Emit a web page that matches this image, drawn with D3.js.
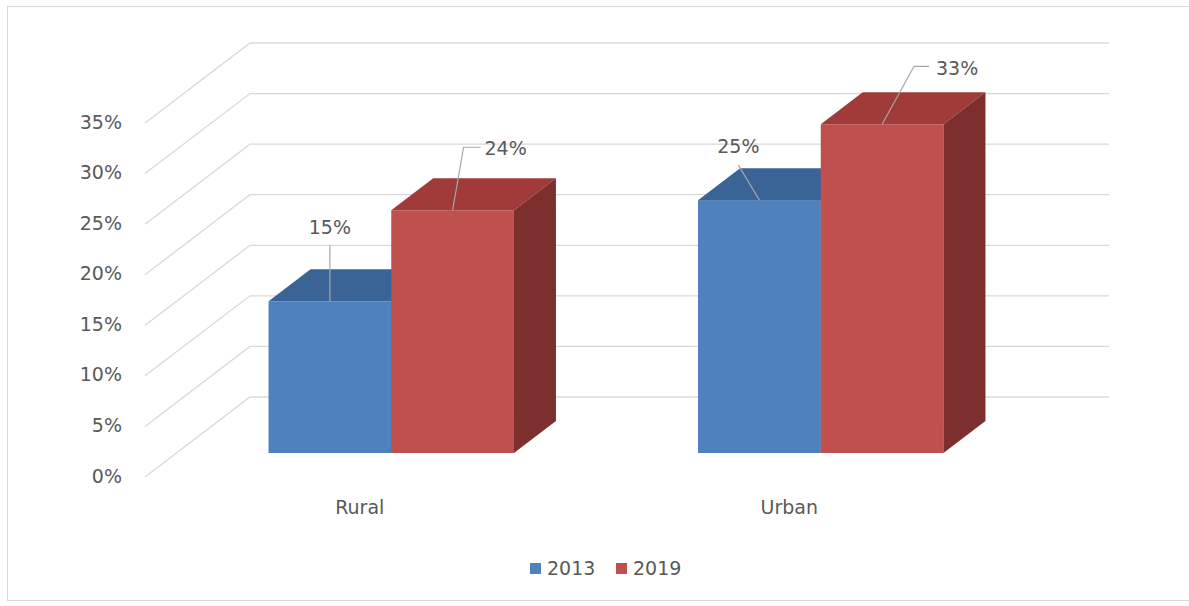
<!DOCTYPE html>
<html>
<head>
<meta charset="utf-8">
<script src="https://cdn.jsdelivr.net/npm/d3@7"></script>
<style>
  body { margin: 0; background: #fff; }
  text { font-family: "DejaVu Sans", sans-serif; fill: #595959; }
</style>
</head>
<body>
<div id="chart"></div>
<script>
// data
var categories = ["Rural", "Urban"];
var seriesNames = ["2013", "2019"];
var values2013 = [0.15, 0.25];
var values2019 = [0.24, 0.325];
var yTicks = [0, 0.05, 0.10, 0.15, 0.20, 0.25, 0.30, 0.35];

var width = 1189, height = 606;
var depthX = 105, depthY = -80;   // full depth of the 3d box
var barD0 = 0.3, barD1 = 0.7;      // bars sit in the middle of the depth

var colors = {
  "2013": { front: "#4f81bd", top: "#3a6396", side: "#2f5482" },
  "2019": { front: "#c0504d", top: "#a03b39", side: "#7d2f2e" }
};

// manual label placement, like excel does (offsets from top front edge)
var labelPos = [
  { dx: 0,   dy: -73, path: [[0, -56]] },
  { dx: 53,  dy: -61, path: [[11, -63], [28, -63]] },
  { dx: -21, dy: -53, path: [[-21, -35]] },
  { dx: 75,  dy: -55, path: [[32, -58], [47, -58]] }
];

var svg = d3.select("#chart").append("svg")
  .attr("width", width)
  .attr("height", height);

svg.append("rect")
  .attr("x", 7.5).attr("y", 6.5)
  .attr("width", width).attr("height", 594)
  .attr("fill", "none")
  .attr("stroke", "#d9d9d9");

var x = d3.scaleBand().domain(categories).range([145, 1004]);
var xs = d3.scaleBand().domain(seriesNames).range([0, x.bandwidth()]).paddingOuter(0.75);
var y = d3.scaleLinear().domain([0, 0.35]).range([477, 123]);

function proj(px, py, d) {
  return [px + depthX * d, py + depthY * d];
}

// gridlines: left wall diagonal + back wall
var grid = svg.append("g").attr("stroke", "#d9d9d9").attr("stroke-width", 1.3).attr("fill", "none");
yTicks.forEach(function(t) {
  var a = proj(145, y(t), 0), b = proj(145, y(t), 1), c = proj(1004, y(t), 1);
  grid.append("path").attr("d", d3.line()([a, b, c]));
});

svg.append("g").selectAll("text")
  .data(yTicks)
  .enter().append("text")
  .attr("x", 122)
  .attr("y", function(d) { return y(d); })
  .attr("text-anchor", "end")
  .attr("dominant-baseline", "middle")
  .style("font-size", "19px")
  .text(d3.format(".0%"));

// bars
var bars = [];
categories.forEach(function(c, i) {
  seriesNames.forEach(function(s, j) {
    var v = (j === 0 ? values2013 : values2019)[i];
    bars.push({ cat: c, series: s, value: v, idx: bars.length });
  });
});

var barG = svg.append("g");
bars.forEach(function(b) {
  var fx0 = x(b.cat) + xs(b.series), fx1 = fx0 + xs.bandwidth();
  var p0 = proj(fx0, y(b.value), barD0), p1 = proj(fx1, y(b.value), barD0);
  var base = proj(fx0, y(0), barD0)[1];
  var ddx = depthX * (barD1 - barD0), ddy = depthY * (barD1 - barD0);
  var col = colors[b.series];
  b.fx = (p0[0] + p1[0]) / 2;
  b.fy = p0[1];

  barG.append("rect")
    .attr("x", p0[0]).attr("y", p0[1])
    .attr("width", p1[0] - p0[0]).attr("height", base - p0[1])
    .attr("fill", col.front);
  barG.append("path")
    .attr("d", d3.line()([[p0[0], p0[1]], [p1[0], p1[1]], [p1[0] + ddx, p1[1] + ddy], [p0[0] + ddx, p0[1] + ddy]]) + "Z")
    .attr("fill", col.top);
  barG.append("path")
    .attr("d", d3.line()([[p1[0], p1[1]], [p1[0] + ddx, p1[1] + ddy], [p1[0] + ddx, base + ddy], [p1[0], base]]) + "Z")
    .attr("fill", col.side);
});

// data labels with leader lines
var labG = svg.append("g");
bars.forEach(function(b) {
  var lp = labelPos[b.idx];
  var pts = [[b.fx, b.fy]].concat(lp.path.map(function(p) { return [b.fx + p[0], b.fy + p[1]]; }));
  labG.append("path")
    .attr("d", d3.line()(pts))
    .attr("fill", "none")
    .attr("stroke", "#a6a6a6")
    .attr("stroke-width", 1.2);
  labG.append("text")
    .attr("x", b.fx + lp.dx)
    .attr("y", b.fy + lp.dy)
    .attr("text-anchor", "middle")
    .attr("dominant-baseline", "middle")
    .style("font-size", "19px")
    .text(Math.round(b.value * 100) + "%");
});

// category labels at front floor
svg.append("g").selectAll("text")
  .data(categories)
  .enter().append("text")
  .attr("x", function(d) { return x(d) + x.bandwidth() / 2; })
  .attr("y", 508)
  .attr("text-anchor", "middle")
  .attr("dominant-baseline", "middle")
  .style("font-size", "19px")
  .text(function(d) { return d; });

// legend
var legend = svg.append("g").selectAll("g")
  .data(seriesNames)
  .enter().append("g")
  .attr("transform", function(d, i) { return "translate(" + (530 + i * 86) + ",563)"; });
legend.append("rect")
  .attr("width", 11).attr("height", 11)
  .attr("fill", function(d) { return colors[d].front; });
legend.append("text")
  .attr("x", 17).attr("y", 6)
  .attr("dominant-baseline", "middle")
  .style("font-size", "19px")
  .text(function(d) { return d; });
</script>
</body>
</html>
